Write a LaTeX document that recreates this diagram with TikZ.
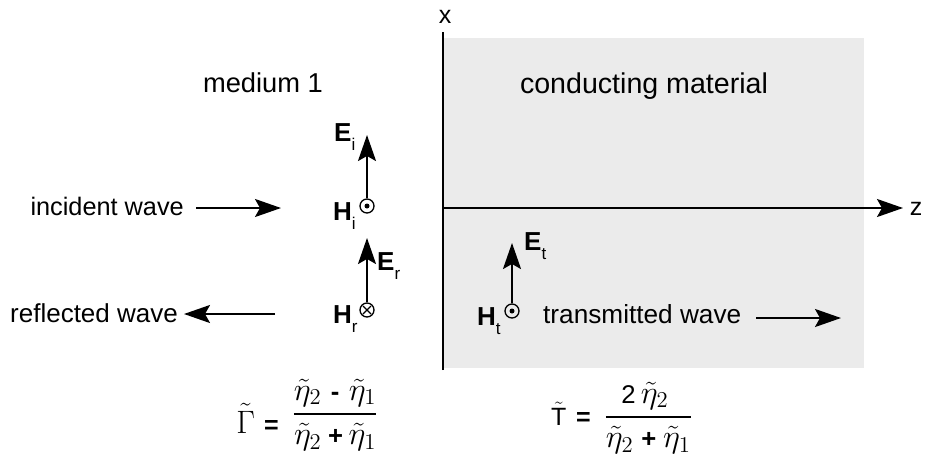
\RequirePackage{fix-cm}
\documentclass[tikz,border=0pt]{standalone}
\usepackage{amsmath}
\usepackage{fontspec}
\setmainfont{Liberation Sans}
\usetikzlibrary{arrows.meta}
\newcommand{\vlab}[2]{{\bfseries #1}\raisebox{-9pt}{\fontsize{17}{17}\selectfont #2}}
\newcommand{\opr}[1]{\text{\fontsize{19}{19}\selectfont\bfseries #1}}
\begin{document}
\begin{tikzpicture}[x=1pt,y=-1pt,
  txt/.style={inner sep=0pt,font=\fontsize{25}{30}\selectfont},
  lab/.style={inner sep=0pt,font=\fontsize{26}{30}\selectfont},
  frm/.style={inner sep=0pt,font=\fontsize{24}{28}\selectfont,scale=1.35,transform shape},
  arr/.style={line width=2pt,-{Stealth[length=26pt,width=18pt,inset=5pt]}},
  axis/.style={line width=2pt},
  hsym/.style={circle,draw,line width=1.3pt,minimum size=14pt,inner sep=0pt}]
\useasboundingbox (0,0) rectangle (929,464);
% conducting region
\fill[black!8] (443,38) rectangle (864,368);
% axes
\coordinate (o) at (443,208);
\coordinate (xtop) at (443,32);
\coordinate (xbot) at (443,370);
\coordinate (zend) at (903,208);
\draw[axis] (xbot) -- (xtop);
\draw[arr] (o) -- (zend);
\node[txt,anchor=base] (xl) at (445,23) {x};
\node[txt,anchor=base] (zl) at (916,215) {z};
% region labels
\node[txt,font=\fontsize{27.3}{30}\selectfont,anchor=base] (m1) at (263,92) {medium 1};
\node[txt,font=\fontsize{28.6}{32}\selectfont,anchor=base] (cm) at (644,93) {conducting material};
% incident
\node[hsym] (hi) at (367,206) {};
\fill (hi.center) circle (2.5pt);
\coordinate (eitip) at (367,135);
\draw[arr] (hi.north) -- (eitip);
\node[lab,anchor=base west] (eil) at (334,141) {\vlab{E}{i}};
\node[lab,anchor=base west] (hil) at (333,220) {\vlab{H}{i}};
% reflected
\node[hsym] (hr) at (367,310) {};
\draw[line width=1.3pt] ([shift={(-4,-4)}]hr.center) -- ([shift={(4,4)}]hr.center)
  ([shift={(-4,4)}]hr.center) -- ([shift={(4,-4)}]hr.center);
\coordinate (ertip) at (367,238);
\draw[arr] (hr.north) -- (ertip);
\node[lab,anchor=base west] (erl) at (377,270) {\vlab{E}{r}};
\node[lab,anchor=base west] (hrl) at (333,323) {\vlab{H}{r}};
% transmitted
\node[hsym] (ht) at (512,311) {};
\fill (ht.center) circle (2.5pt);
\coordinate (ettip) at (512,243);
\draw[arr] (ht.north) -- (ettip);
\node[lab,anchor=base west] (etl) at (524,250) {\vlab{E}{t}};
\node[lab,anchor=base west] (htl) at (477,325) {\vlab{H}{t}};
% wave labels and arrows
\node[txt,font=\fontsize{25.3}{30}\selectfont,anchor=base east] (inc) at (184,215) {incident wave};
\coordinate (incs) at (196,208);
\coordinate (ince) at (281,208);
\draw[arr] (incs) -- (ince);
\node[txt,font=\fontsize{26}{30}\selectfont,anchor=base west] (ref) at (10,322) {reflected wave};
\coordinate (refs) at (275,314);
\coordinate (refe) at (184,314);
\draw[arr] (refs) -- (refe);
\node[txt,font=\fontsize{26.2}{30}\selectfont,anchor=base west] (tra) at (543,323) {transmitted wave};
\coordinate (tras) at (756,318);
\coordinate (trae) at (841,318);
\draw[arr] (tras) -- (trae);
% formulas
\node[frm,anchor=base west] (gl) at (236,433) {$\tilde{\Gamma}$};
\node[txt,anchor=base west] (ge) at (264,433) {\bfseries =};
\node[frm,anchor=base west] (gf) at (292,422) {$\dfrac{\tilde\eta_2\hspace{7pt}\opr{-}\hspace{7pt}\tilde\eta_1}{\tilde\eta_2\hspace{5pt}\opr{+}\hspace{4pt}\tilde\eta_1}$};
\node[txt,anchor=base west] (tl) at (551,425) {$\tilde{\text{T}}$};
\node[txt,anchor=base west] (te) at (576,425) {\bfseries =};
\node[frm,anchor=base west] (tf) at (604,425) {$\dfrac{\text{\fontsize{19}{19}\selectfont 2}\,\tilde\eta_2\hspace{5pt}}{\tilde\eta_2\hspace{6pt}\opr{+}\hspace{5pt}\tilde\eta_1}$};
\end{tikzpicture}
\end{document}
